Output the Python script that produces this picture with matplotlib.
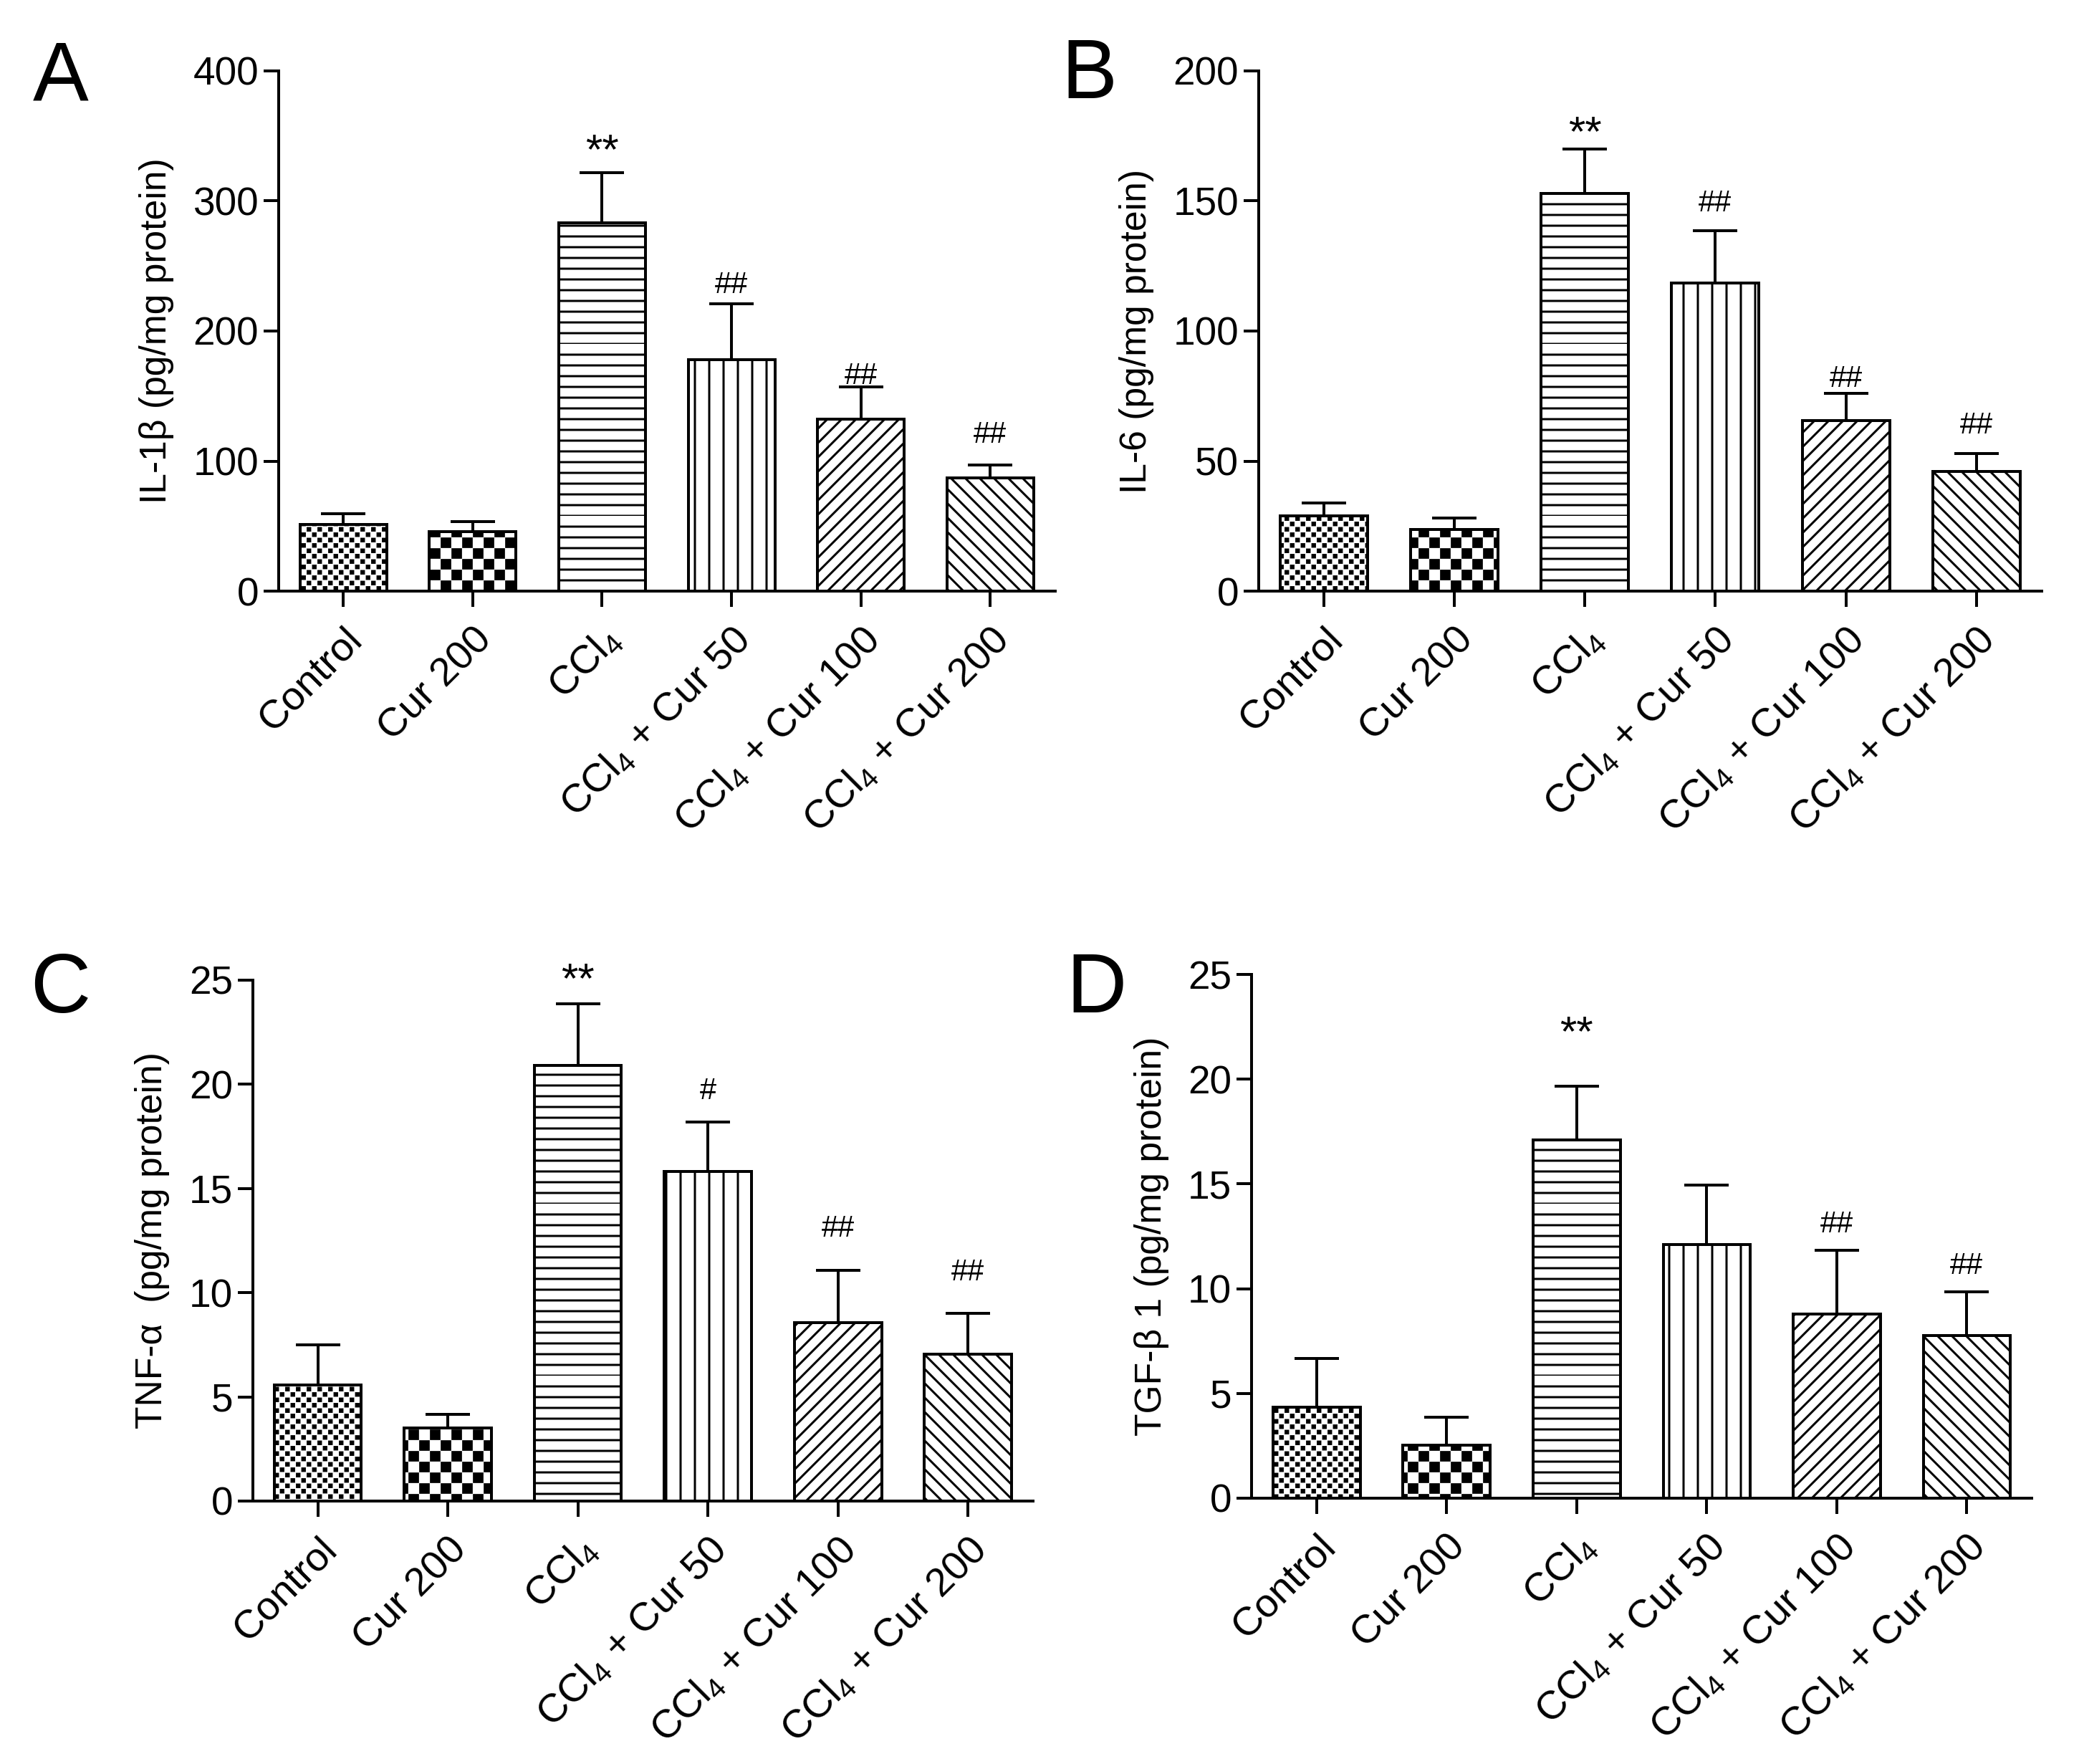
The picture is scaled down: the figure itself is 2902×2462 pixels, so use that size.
import warnings
import numpy as np
import matplotlib
matplotlib.use('Agg')
import matplotlib.pyplot as plt
import matplotlib.hatch as mhatch
from matplotlib.path import Path
from matplotlib.transforms import ScaledTranslation

warnings.filterwarnings('ignore', message='.*hatch must consist.*')

# ---- data ----
groups = ['Control', 'Cur 200', 'CCl$_4$', 'CCl$_4$ + Cur 50',
          'CCl$_4$ + Cur 100', 'CCl$_4$ + Cur 200']

il1b_mean = [51.5, 46, 283, 178, 132, 87]
il1b_sd = [8, 7.5, 39, 43, 25, 10]
il1b_marks = ['', '', '**', '##', '##', '##']
il1b_mark_y = [0, 0, 348, 237, 167, 122]

il6_mean = [29, 23.6, 153, 118.5, 65.6, 46]
il6_sd = [5, 4.4, 17, 20, 10.4, 7]
il6_marks = ['', '', '**', '##', '##', '##']
il6_mark_y = [0, 0, 181, 150, 82.6, 64.6]

tnf_mean = [5.56, 3.52, 20.9, 15.8, 8.57, 7.03]
tnf_sd = [1.92, 0.64, 2.95, 2.4, 2.49, 1.97]
tnf_marks = ['', '', '**', '#', '##', '##']
tnf_mark_y = [0, 0, 25.6, 19.8, 13.2, 11.1]

tgf_mean = [4.33, 2.54, 17.1, 12.09, 8.78, 7.76]
tgf_sd = [2.35, 1.34, 2.56, 2.86, 3.05, 2.1]
tgf_marks = ['', '', '**', '', '##', '##']
tgf_mark_y = [0, 0, 22.8, 0, 13.2, 11.2]

# fill patterns per group (c = checker, k = fine dots, h = horizontal lines)
patterns = ['k', 'c', 'h', '||', '////', '\\\\\\\\']


# extra hatch shapes: checkerboard, fine dot grid, denser horizontal lines
class ExtraHatch(mhatch.HatchPatternBase):
    def __init__(self, hatch, density):
        self.kind = None
        for ch in 'ckh':
            if ch in hatch:
                self.kind = ch
        if self.kind == 'h':
            self.num_vertices = 16 * 2
        elif self.kind in ('c', 'k'):
            n = 16 if self.kind == 'c' else 32
            self.num_vertices = n * n // 2 * 5
        else:
            self.num_vertices = 0

    def set_vertices_and_codes(self, vertices, codes):
        if self.kind == 'h':
            ys = np.linspace(0, 1, 16, endpoint=False)
            vertices[0::2, 0] = 0
            vertices[0::2, 1] = ys
            vertices[1::2, 0] = 1
            vertices[1::2, 1] = ys
            codes[0::2] = Path.MOVETO
            codes[1::2] = Path.LINETO
            return
        n = 16 if self.kind == 'c' else 32
        frac = 0.78 if self.kind == 'c' else 0.45
        cell = 1.0 / n
        s = cell * frac
        k = 0
        for i in range(n):
            for j in range(n):
                if (i + j) % 2:
                    continue
                x0 = i * cell + (cell - s) / 2
                y0 = j * cell + (cell - s) / 2
                vertices[k:k + 5] = [[x0, y0], [x0 + s, y0], [x0 + s, y0 + s],
                                     [x0, y0 + s], [x0, y0]]
                codes[k:k + 5] = [Path.MOVETO, Path.LINETO, Path.LINETO,
                                  Path.LINETO, Path.CLOSEPOLY]
                k += 5


mhatch._hatch_types.append(ExtraHatch)

plt.rcParams['font.family'] = ['Liberation Sans', 'DejaVu Sans']
plt.rcParams['mathtext.default'] = 'regular'
plt.rcParams['hatch.linewidth'] = 0.9
plt.rcParams['hatch.color'] = 'black'

W, H = 2902, 2462
DPI = 240
fig = plt.figure(figsize=(W / DPI, H / DPI), dpi=DPI)
fig.patch.set_facecolor('white')


def panel(rect, mean, sd, marks, mark_y, ymax, ystep, ylabel):
    ax = fig.add_axes(rect)
    x = np.arange(len(groups))
    bars = ax.bar(x, mean, width=0.67, color='white', edgecolor='black',
                  linewidth=1.2, zorder=2)
    for b, p in zip(bars, patterns):
        b.set_hatch(p)
    ax.errorbar(x, mean, yerr=[np.zeros(len(sd)), sd], fmt='none',
                ecolor='black', elinewidth=1.2, capsize=9.2, capthick=1.2,
                zorder=1)
    for i, m in enumerate(marks):
        if not m:
            continue
        if '*' in m:
            fs, off = 18, -0.58 * 18
        else:
            fs, off = 12.5, -0.35 * 12.5
        ax.annotate(m, xy=(i, mark_y[i]), xytext=(0, off),
                    textcoords='offset points', ha='center', va='baseline',
                    fontsize=fs, annotation_clip=False)
    ax.set_xlim(-0.5, 5.5)
    ax.set_ylim(0, ymax)
    ax.set_yticks(np.arange(0, ymax + ystep / 2, ystep))
    ax.set_xticks(x)
    ax.set_xticklabels(groups, rotation=45, ha='right', va='top',
                       rotation_mode='anchor', fontsize=16.8)
    shift = ScaledTranslation(2.5 / 72, 0, fig.dpi_scale_trans)
    for lab in ax.get_xticklabels():
        lab.set_transform(lab.get_transform() + shift)
    ax.spines[['top', 'right']].set_visible(False)
    ax.spines[['left', 'bottom']].set_linewidth(1.2)
    ax.tick_params(axis='y', length=6.3, width=1.2, pad=2, labelsize=16.5)
    ax.tick_params(axis='x', length=6.5, width=1.2, pad=6)
    ax.set_ylabel(ylabel, fontsize=15.5, labelpad=8)
    return ax


panel([0.1340, 0.6649, 0.3735, 0.2949], il1b_mean, il1b_sd, il1b_marks,
      il1b_mark_y, 400, 100, 'IL-1β (pg/mg protein)')
panel([0.6054, 0.6649, 0.3766, 0.2949], il6_mean, il6_sd, il6_marks,
      il6_mark_y, 200, 50, 'IL-6 (pg/mg protein)')
panel([0.1216, 0.1491, 0.3753, 0.2953], tnf_mean, tnf_sd, tnf_marks,
      tnf_mark_y, 25, 5, 'TNF-α  (pg/mg protein)')
panel([0.6020, 0.1507, 0.3753, 0.2969], tgf_mean, tgf_sd, tgf_marks,
      tgf_mark_y, 25, 5, 'TGF-β 1 (pg/mg protein)')

for letter, px, py in [('A', 46, 140), ('B', 1481, 137),
                       ('C', 42, 1413), ('D', 1488, 1413)]:
    fig.text(px / W, 1 - py / H, letter, fontsize=35, ha='left', va='baseline')

fig.savefig('out.png', dpi=DPI, facecolor='white')
